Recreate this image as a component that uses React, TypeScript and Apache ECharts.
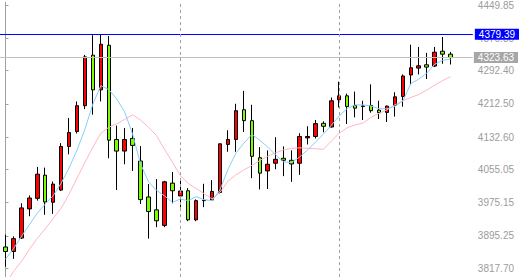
import React, { useEffect, useRef } from "react";
import * as echarts from "echarts";

// OHLC: [open, close, low, high]
const ohlc: number[][] = [
  [3868.9, 3858.0, 3821.3, 3898.4],
  [3858.0, 3888.9, 3840.3, 3894.4],
  [3890.3, 3962.7, 3888.0, 3973.7],
  [3960.3, 3986.5, 3942.7, 3992.7],
  [3985.6, 4043.7, 3980.1, 4061.1],
  [4041.3, 3977.0, 3946.1, 4059.4],
  [3976.1, 4019.9, 3948.4, 4026.1],
  [4005.6, 4110.3, 4003.2, 4118.2],
  [4110.3, 4143.7, 4091.3, 4178.4],
  [4146.1, 4208.0, 4141.3, 4218.2],
  [4208.0, 4325.3, 4199.9, 4330.1],
  [4329.4, 4246.1, 4186.5, 4377.5],
  [4246.1, 4355.6, 4218.2, 4379.39],
  [4353.2, 4125.3, 4081.8, 4375.3],
  [4127.0, 4099.1, 4005.6, 4160.3],
  [4099.1, 4127.0, 4067.5, 4154.6],
  [4129.4, 4112.7, 4051.5, 4154.6],
  [4075.3, 3982.5, 3972.2, 4111.1],
  [3988.9, 3953.9, 3888.9, 4019.9],
  [3958.0, 3931.8, 3916.5, 4031.8],
  [3920.6, 4025.3, 3916.5, 4027.7],
  [4022.2, 4003.9, 3973.7, 4049.1],
  [3991.3, 4003.2, 3964.1, 4034.1],
  [4003.9, 3934.1, 3930.8, 4010.3],
  [3934.1, 3980.1, 3930.8, 3983.2],
  [3980.1, 3981.0, 3964.6, 4020.6],
  [3981.8, 4002.2, 3980.1, 4029.4],
  [3999.9, 4116.5, 3997.5, 4117.5],
  [4115.1, 4127.0, 4097.5, 4149.2],
  [4127.0, 4196.1, 4097.5, 4212.7],
  [4198.4, 4172.2, 4145.1, 4243.7],
  [4172.2, 4086.5, 4034.1, 4210.3],
  [4083.2, 4046.1, 4007.0, 4108.7],
  [4051.5, 4067.5, 4008.0, 4100.8],
  [4069.9, 4079.4, 4055.6, 4132.5],
  [4081.8, 4077.0, 4038.9, 4110.3],
  [4077.0, 4068.2, 4025.3, 4100.8],
  [4069.9, 4134.2, 4042.0, 4142.0],
  [4130.8, 4134.2, 4115.1, 4158.7],
  [4134.2, 4165.1, 4129.4, 4173.7],
  [4165.8, 4158.7, 4144.4, 4170.6],
  [4157.0, 4219.9, 4155.6, 4227.7],
  [4222.2, 4231.8, 4203.9, 4265.8],
  [4231.8, 4206.3, 4164.2, 4237.2],
  [4208.7, 4202.2, 4180.1, 4242.0],
  [4206.4, 4207.6, 4173.7, 4219.9],
  [4208.7, 4196.1, 4191.3, 4259.4],
  [4197.5, 4191.3, 4176.1, 4219.9],
  [4192.0, 4207.0, 4168.9, 4208.7],
  [4208.7, 4229.4, 4181.8, 4240.3],
  [4230.1, 4279.4, 4205.6, 4283.2],
  [4281.8, 4299.2, 4258.0, 4354.6],
  [4298.4, 4303.9, 4283.2, 4349.2],
  [4306.3, 4300.8, 4272.2, 4334.9],
  [4303.2, 4336.5, 4300.8, 4349.2],
  [4338.9, 4331.8, 4308.7, 4373.0],
  [4331.8, 4323.63, 4307.0, 4337.2],
];

// fast moving average (light blue)
const maFast: number[] = [
  3839.6, 3864.6, 3893.7, 3922.2, 3949.9, 3971.8, 3992.0, 4021.8, 4058.7, 4101.5,
  4151.5, 4212.0, 4256.3, 4246.8, 4224.2, 4193.2, 4139.6, 4068.2, 4025.3, 4005.1,
  3992.0, 3976.1, 3983.7, 3980.1, 3989.6, 3982.5, 3980.1, 4006.3, 4055.1, 4094.4,
  4118.2, 4138.9, 4125.3, 4108.7, 4089.6, 4073.0, 4071.8, 4084.9, 4101.5, 4120.6,
  4139.6, 4161.1, 4183.7, 4201.5, 4209.9, 4209.9, 4207.5, 4200.8, 4200.8, 4206.3,
  4219.4, 4261.1, 4271.8, 4286.1, 4307.5, 4317.0, 4319.9,
];

// slow moving average (pink)
const maSlow: number[] = [
  3777.7, 3809.9, 3833.7, 3862.7, 3889.6, 3912.2, 3937.2, 3961.8, 3995.6, 4033.9,
  4072.0, 4108.7, 4142.0, 4156.3, 4164.6, 4175.3, 4186.1, 4173.7, 4156.3, 4136.5,
  4103.9, 4073.0, 4040.1, 4021.5, 4009.4, 3996.8, 3984.1, 4000.1, 4027.0, 4042.0,
  4053.9, 4064.9, 4076.3, 4086.8, 4094.9, 4102.2, 4105.3, 4107.0, 4105.8, 4104.9,
  4103.2, 4123.0, 4142.0, 4155.1, 4161.8, 4166.5, 4180.1, 4189.6, 4198.0, 4209.9,
  4219.9, 4227.7, 4234.9, 4245.6, 4257.5, 4268.2, 4277.7,
];

const priceTicks: number[] = [4449.85, 4370.3, 4292.4, 4212.5, 4132.6, 4055.05, 3975.15, 3895.25, 3817.7];
const askLevel = 4379.39;
const bidLevel = 4323.63;
const separators: number[] = [22, 42];

const Y_MIN = 3796.8;
const Y_MAX = 4456.3;
const X_MIN = -0.6875;
const X_MAX = 58.8125;

const FONT = "'Liberation Sans', Arial, sans-serif";

export default function App() {
  const ref = useRef<HTMLDivElement>(null);

  useEffect(() => {
    if (!ref.current) return;
    const chart = echarts.init(ref.current, undefined, { renderer: "svg" });

    const candleData = ohlc.map((d, i) => [i, d[0], d[1], d[2], d[3]]);
    const fastData = maFast.map((v, i) => [i, v]);
    const slowData = maSlow.map((v, i) => [i, v]);

    const baseY = {
      type: "value",
      position: "right",
      min: Y_MIN,
      max: Y_MAX,
      scale: true,
      splitLine: { show: false },
    };

    const option: any = {
      animation: false,
      backgroundColor: "#ffffff",
      grid: { left: 0, right: 46, top: 0, bottom: 0, show: false },
      xAxis: { type: "value", min: X_MIN, max: X_MAX, show: false },
      yAxis: [
        {
          ...baseY,
          axisLine: { show: true, lineStyle: { color: "#a0a0a0", width: 1 } },
          axisTick: {
            show: true,
            inside: false,
            length: 3,
            customValues: priceTicks,
            lineStyle: { color: "#a0a0a0" },
          },
          axisLabel: {
            show: true,
            customValues: priceTicks,
            margin: 5,
            color: "#9c9c9c",
            fontSize: 10,
            fontFamily: FONT,
            formatter: (v: number) => v.toFixed(2),
          },
        },
        {
          ...baseY,
          z: 10,
          axisLine: { show: false },
          axisTick: { show: false },
          axisLabel: {
            show: true,
            customValues: [bidLevel],
            margin: 1,
            color: "#ffffff",
            backgroundColor: "#a6a6a6",
            padding: [1, 4, 0, 4],
            fontSize: 10,
            fontFamily: FONT,
            formatter: (v: number) => v.toFixed(2),
          },
        },
        {
          ...baseY,
          z: 11,
          axisLine: { show: false },
          axisTick: { show: false },
          axisLabel: {
            show: true,
            customValues: [askLevel],
            margin: 2,
            color: "#ffffff",
            backgroundColor: "#0000ff",
            padding: [1, 4, 0, 4],
            fontSize: 10,
            fontFamily: FONT,
            formatter: (v: number) => v.toFixed(2),
          },
        },
      ],
      series: [
        {
          type: "candlestick",
          data: candleData,
          encode: { x: 0, y: [1, 2, 3, 4] },
          barWidth: 4,
          itemStyle: {
            color: "#ff0000",
            color0: "#7cfc00",
            borderColor: "#000000",
            borderColor0: "#000000",
            borderWidth: 1,
          },
          markLine: {
            silent: true,
            symbol: ["none", "none"],
            label: { show: false },
            data: [
              { yAxis: askLevel, lineStyle: { color: "#0000ff", type: "solid", width: 1 } },
              { yAxis: bidLevel, lineStyle: { color: "#c0c0c0", type: "solid", width: 1 } },
              ...separators.map((s) => ({
                xAxis: s,
                lineStyle: { color: "#a0a0a0", type: [3, 3], width: 1 },
              })),
            ],
          },
        },
        {
          type: "line",
          data: slowData,
          showSymbol: false,
          symbol: "none",
          lineStyle: { color: "#ffb6c1", width: 1 },
          z: 3,
        },
        {
          type: "line",
          data: fastData,
          showSymbol: false,
          symbol: "none",
          lineStyle: { color: "#87cefa", width: 1 },
          z: 3,
        },
      ],
    };

    chart.setOption(option);
    return () => chart.dispose();
  }, []);

  return (
    <div
      ref={ref}
      style={{ position: "absolute", left: 0, top: 0, width: 522, height: 277 }}
    />
  );
}
